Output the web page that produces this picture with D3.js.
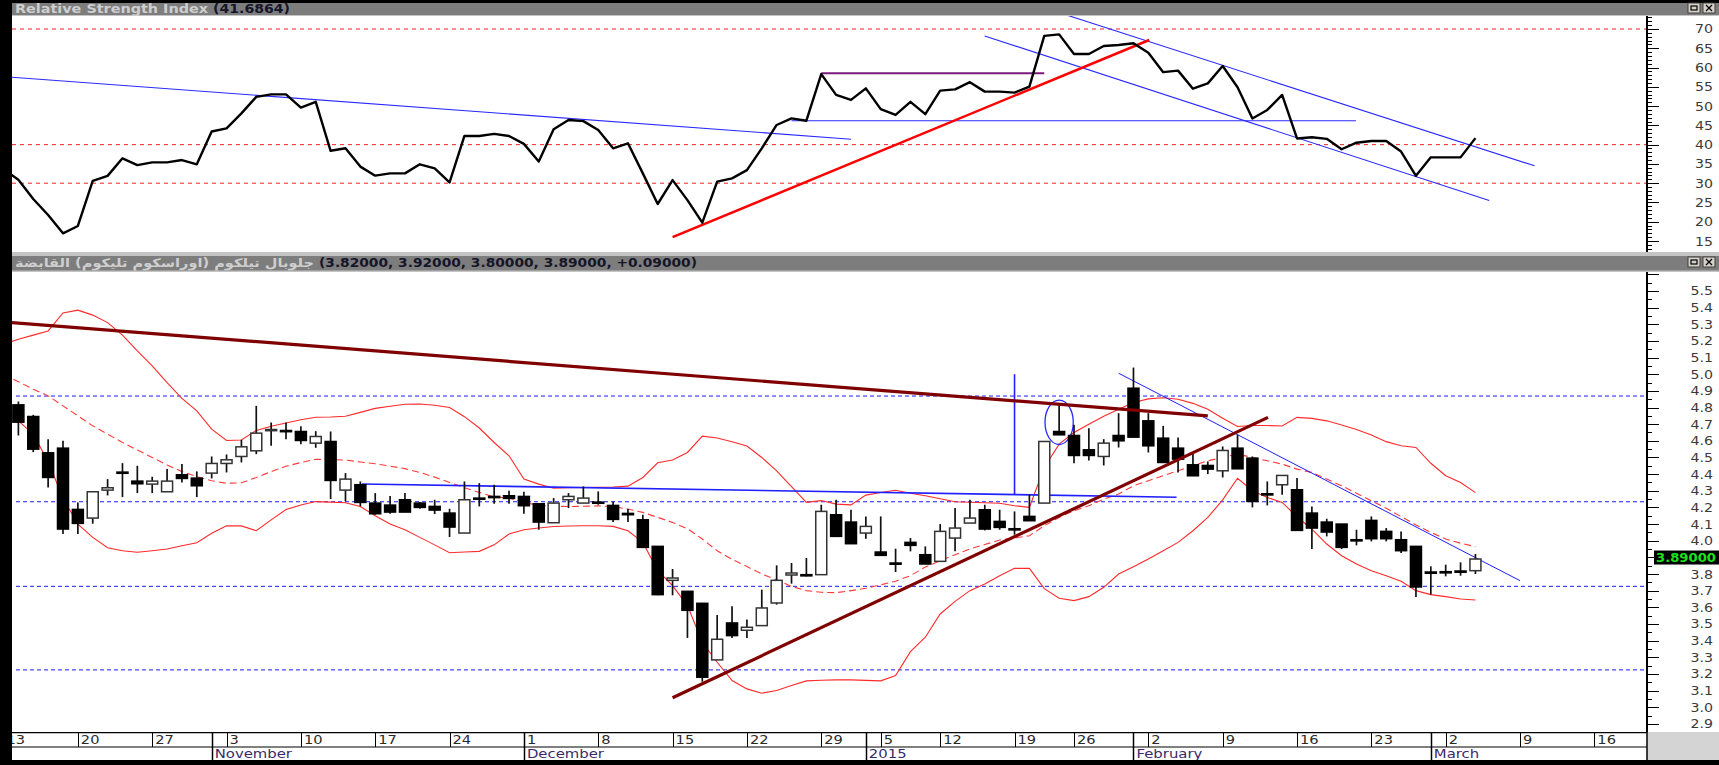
<!DOCTYPE html>
<html>
<head>
<meta charset="utf-8">
<script src="https://cdn.jsdelivr.net/npm/d3@7"></script>
<style>
  html, body { margin: 0; padding: 0; background: #000; overflow: hidden; }
  text { font-family: "DejaVu Sans", sans-serif; }
</style>
</head>
<body>
<div id="chart"></div>
<script>
// trading days on the x axis (the first one is cut by the left border, the tail is empty future space)
const dates = [
  "2014-10-13","2014-10-14","2014-10-15","2014-10-16","2014-10-19","2014-10-20","2014-10-21","2014-10-22","2014-10-23","2014-10-26",
  "2014-10-27","2014-10-28","2014-10-29","2014-10-30","2014-11-02","2014-11-03","2014-11-04","2014-11-05","2014-11-06","2014-11-09",
  "2014-11-10","2014-11-11","2014-11-12","2014-11-13","2014-11-16","2014-11-17","2014-11-18","2014-11-19","2014-11-20","2014-11-23",
  "2014-11-24","2014-11-25","2014-11-26","2014-11-27","2014-11-30","2014-12-01","2014-12-02","2014-12-03","2014-12-04","2014-12-07",
  "2014-12-08","2014-12-09","2014-12-10","2014-12-11","2014-12-14","2014-12-15","2014-12-16","2014-12-17","2014-12-18","2014-12-21",
  "2014-12-22","2014-12-23","2014-12-24","2014-12-25","2014-12-28","2014-12-29","2014-12-30","2014-12-31","2015-01-04","2015-01-05",
  "2015-01-06","2015-01-08","2015-01-11","2015-01-12","2015-01-13","2015-01-14","2015-01-15","2015-01-18","2015-01-19","2015-01-20",
  "2015-01-21","2015-01-22","2015-01-26","2015-01-27","2015-01-28","2015-01-29","2015-02-01","2015-02-02","2015-02-03","2015-02-04",
  "2015-02-05","2015-02-08","2015-02-09","2015-02-10","2015-02-11","2015-02-12","2015-02-15","2015-02-16","2015-02-17","2015-02-18",
  "2015-02-19","2015-02-22","2015-02-23","2015-02-24","2015-02-25","2015-02-26","2015-03-01","2015-03-02","2015-03-03","2015-03-04",
  "2015-03-05","2015-03-08","2015-03-09","2015-03-10","2015-03-11","2015-03-12","2015-03-15","2015-03-16","2015-03-17","2015-03-18",
  "2015-03-19"
];

// daily candles
const open = [null,
  4.816,4.746,4.528,4.556,4.188,4.136,4.304,4.412,4.358,4.340,
  4.294,4.396,4.376,4.406,4.464,4.506,4.540,4.664,4.662,4.656,
  4.586,4.596,4.304,4.336,4.226,4.214,4.246,4.226,4.206,4.166,
  4.046,4.256,4.266,4.270,4.266,4.222,4.108,4.246,4.226,4.232,
  4.212,4.164,4.126,3.966,3.762,3.696,3.624,3.284,3.506,3.462,
  3.490,3.626,3.794,3.796,3.796,4.156,4.112,4.046,3.932,3.866,
  3.990,3.916,3.876,4.016,4.106,4.186,4.116,4.072,4.146,4.226,
  4.656,4.632,4.546,4.506,4.632,4.916,4.720,4.616,4.556,4.456,
  4.452,4.420,4.556,4.496,4.282,4.336,4.306,4.166,4.112,4.100,
  4.006,4.122,4.056,4.006,3.966,3.812,3.814,3.818,3.820];
const high = [null,
  4.836,4.756,4.610,4.600,4.230,4.294,4.370,4.466,4.450,4.384,
  4.430,4.460,4.416,4.506,4.518,4.606,4.810,4.710,4.710,4.688,
  4.658,4.656,4.406,4.356,4.286,4.268,4.286,4.232,4.246,4.192,
  4.356,4.346,4.336,4.300,4.294,4.222,4.256,4.286,4.326,4.296,
  4.236,4.190,4.156,3.966,3.830,3.696,3.624,3.554,3.606,3.526,
  3.706,3.852,3.866,3.896,4.216,4.246,4.186,4.146,4.146,3.952,
  4.016,3.966,4.100,4.196,4.246,4.216,4.186,4.176,4.276,4.596,
  4.812,4.696,4.676,4.610,4.766,5.040,4.766,4.690,4.620,4.526,
  4.476,4.566,4.636,4.506,4.356,4.392,4.376,4.206,4.132,4.100,
  4.066,4.146,4.076,4.056,3.966,3.846,3.856,3.870,3.920];
const low = [null,
  4.632,4.532,4.320,4.040,4.040,4.102,4.272,4.262,4.286,4.286,
  4.294,4.350,4.262,4.374,4.410,4.470,4.520,4.570,4.610,4.580,
  4.558,4.250,4.236,4.206,4.156,4.162,4.172,4.192,4.160,4.022,
  4.046,4.206,4.222,4.222,4.162,4.066,4.108,4.196,4.226,4.216,
  4.112,4.112,3.960,3.672,3.672,3.416,3.153,3.284,3.416,3.416,
  3.490,3.616,3.742,3.786,3.796,4.026,3.982,4.012,3.912,3.812,
  3.936,3.860,3.876,3.936,4.106,4.062,4.066,4.036,4.120,4.226,
  4.636,4.466,4.482,4.452,4.560,4.622,4.530,4.470,4.410,4.390,
  4.400,4.380,4.432,4.200,4.212,4.276,4.062,3.950,4.026,3.950,
  3.972,3.996,3.996,3.926,3.662,3.676,3.786,3.790,3.800];
const close = [null,
  4.712,4.550,4.380,4.070,4.104,4.294,4.318,4.412,4.342,4.358,
  4.358,4.374,4.330,4.464,4.486,4.564,4.646,4.668,4.662,4.602,
  4.626,4.362,4.370,4.230,4.162,4.172,4.172,4.200,4.184,4.082,
  4.246,4.256,4.266,4.254,4.210,4.112,4.226,4.266,4.256,4.232,
  4.128,4.156,3.960,3.676,3.776,3.582,3.180,3.408,3.430,3.480,
  3.596,3.762,3.806,3.796,4.176,4.026,3.982,4.086,3.912,3.866,
  3.972,3.860,4.056,4.076,4.136,4.070,4.080,4.070,4.120,4.596,
  4.636,4.512,4.512,4.586,4.600,4.622,4.570,4.470,4.490,4.390,
  4.430,4.542,4.432,4.236,4.282,4.392,4.062,4.076,4.052,3.960,
  4.006,4.012,4.012,3.940,3.722,3.812,3.814,3.812,3.890];

// Bollinger bands
const bbUpper = [
  5.18,5.21,5.235,5.26,5.368,5.385,5.355,5.31,5.235,5.14,
  5.05,4.95,4.855,4.78,4.67,4.602,4.605,4.662,4.687,4.707,
  4.727,4.742,4.743,4.748,4.771,4.795,4.808,4.82,4.821,4.814,
  4.80,4.745,4.677,4.59,4.51,4.37,4.34,4.315,4.318,4.32,
  4.321,4.323,4.328,4.38,4.468,4.485,4.53,4.628,4.617,4.594,
  4.569,4.50,4.42,4.325,4.23,4.241,4.22,4.215,4.274,4.29,
  4.303,4.285,4.27,4.252,4.234,4.231,4.228,4.225,4.21,4.20,
  4.44,4.58,4.65,4.70,4.748,4.79,4.83,4.852,4.859,4.85,
  4.825,4.79,4.735,4.686,4.692,4.692,4.689,4.741,4.735,4.72,
  4.695,4.668,4.635,4.595,4.57,4.56,4.465,4.39,4.35,4.289];
const bbMiddle = [
  5.00,4.955,4.91,4.87,4.81,4.75,4.69,4.64,4.59,4.545,
  4.50,4.455,4.415,4.385,4.36,4.345,4.348,4.38,4.415,4.447,
  4.47,4.489,4.487,4.484,4.473,4.462,4.448,4.433,4.41,4.382,
  4.35,4.318,4.29,4.263,4.256,4.23,4.212,4.207,4.205,4.207,
  4.209,4.205,4.19,4.17,4.14,4.11,4.072,4.01,3.94,3.888,
  3.845,3.80,3.765,3.725,3.70,3.69,3.688,3.70,3.714,3.735,
  3.757,3.79,3.842,3.88,3.916,3.95,3.977,4.004,4.016,4.03,
  4.09,4.14,4.18,4.21,4.25,4.28,4.33,4.36,4.39,4.42,
  4.45,4.48,4.50,4.52,4.50,4.48,4.46,4.43,4.41,4.37,
  4.33,4.285,4.24,4.195,4.145,4.095,4.05,4.01,3.985,3.964];
const bbLower = [
  4.80,4.72,4.64,4.475,4.255,4.10,4.02,3.958,3.94,3.931,
  3.94,3.95,3.97,3.988,4.045,4.09,4.089,4.06,4.125,4.187,
  4.215,4.235,4.232,4.228,4.205,4.15,4.10,4.066,4.02,3.975,
  3.928,3.932,3.936,3.975,4.04,4.066,4.076,4.085,4.088,4.09,
  4.09,4.086,4.06,3.99,3.82,3.73,3.61,3.39,3.27,3.16,
  3.11,3.084,3.10,3.13,3.158,3.162,3.164,3.164,3.161,3.158,
  3.19,3.334,3.42,3.56,3.636,3.70,3.74,3.79,3.834,3.834,
  3.712,3.654,3.64,3.664,3.72,3.80,3.844,3.89,3.94,3.99,
  4.06,4.14,4.245,4.375,4.30,4.26,4.23,4.144,4.07,3.98,
  3.91,3.86,3.82,3.79,3.756,3.70,3.676,3.664,3.65,3.644];

// RSI(14)
const rsi = [
  33.6,30.9,25.9,21.75,17.0,18.9,30.6,31.9,36.45,34.7,
  35.4,35.4,36.0,34.9,43.4,44.2,48.1,52.4,53.05,53.05,
  49.6,51.1,38.4,39.05,34.3,31.95,32.55,32.55,34.9,33.85,
  30.2,42.25,42.25,42.8,42.25,40.2,35.6,44.0,46.4,46.1,
  43.8,39.05,40.35,32.55,24.6,30.8,25.6,19.75,30.4,31.25,
  33.4,39.05,45.1,46.8,46.2,58.3,52.9,51.6,54.6,49.2,
  47.7,51.1,47.9,54.0,54.35,56.2,53.75,53.75,53.5,55.05,
  68.2,68.6,63.5,63.5,65.6,65.85,66.3,63.85,58.8,59.2,
  54.5,55.9,60.4,54.9,46.8,49.0,52.9,41.6,41.9,41.5,
  38.8,40.5,40.95,40.95,38.2,31.9,36.7,36.7,36.7,41.69];

// axis tick labels
const rsiTicks = [15, 20, 25, 30, 35, 40, 45, 50, 55, 60, 65, 70];
const priceTicks = [2.9, 3.0, 3.1, 3.2, 3.3, 3.4, 3.5, 3.6, 3.7, 3.8, 4.0, 4.1, 4.2, 4.3, 4.4, 4.5, 4.6, 4.7, 4.8, 4.9, 5.0, 5.1, 5.2, 5.3, 5.4, 5.5];
const monthNames = ["2015", "February", "March", "April", "May", "June", "July", "August", "September", "October", "November", "December"];

// horizontal reference levels
const rsiLevels = [70, 40, 30];
const priceLevels = [4.869, 4.234, 3.726, 3.224];

// drawn trend lines, as [day position, value] pairs
const priceTrendMaroon = [[[0.57, 5.31], [81.0, 4.75]], [[45.0, 3.057], [85.05, 4.741]]];
const priceTrendBlue = [[[68.0, 5.0], [68.0, 4.275]], [[24.1, 4.341], [78.9, 4.261]], [[75.0, 5.006], [102.0, 3.76]]];
const priceEllipse = { center: [71.0, 4.711], dx: 0.95, dv: 0.133 };
const rsiTrendBlue = [[[0.57, 57.5], [57.0, 41.4]], [[53.0, 46.2], [90.96, 46.2]], [[71.52, 73.6], [102.98, 34.5]], [[65.99, 68.2], [99.93, 25.5]]];
const rsiTrendRed = [[45.0, 16.0], [77.06, 67.15]];
const rsiTrendPurple = [[55.0, 58.5], [70.0, 58.5]];

const rsiTitle = "Relative Strength Index";
const rsiValue = "(41.6864)";
const priceTitle = "جلوبال تيلكوم (اوراسكوم تليكوم) القابضة";
const priceValue = "(3.82000, 3.92000, 3.80000, 3.89000, +0.09000)";

// ---------------------------------------------------------------
const width = 1719, height = 765;
const plotL = 12, plotR = 1647;
const rsiTop = 16, rsiBot = 252;
const pxTop = 272, pxBot = 732;

const svg = d3.select("#chart").append("svg")
    .attr("width", width)
    .attr("height", height)
    .style("display", "block");

const x = d3.scaleLinear().domain([0.57, 110.54]).range([plotL, plotR]);
const yR = d3.scaleLinear().domain([12.15, 73.37]).range([rsiBot, rsiTop]);
const yP = d3.scaleLinear().domain([2.851, 5.614]).range([pxBot, pxTop]);

// frame pieces
svg.append("rect").attr("width", width).attr("height", height).attr("fill", "#000");
svg.append("rect").attr("x", plotL).attr("y", 3).attr("width", width - plotL).attr("height", 13).attr("fill", "#7d7d7d");
svg.append("rect").attr("x", plotL).attr("y", 15).attr("width", width - plotL).attr("height", 1.5).attr("fill", "#c4c4c4");
svg.append("rect").attr("x", plotL).attr("y", rsiTop).attr("width", width - plotL).attr("height", rsiBot - rsiTop).attr("fill", "#fff");
svg.append("rect").attr("x", plotL).attr("y", rsiBot).attr("width", width - plotL).attr("height", 4).attr("fill", "#c4c4c4");
svg.append("rect").attr("x", plotL).attr("y", 256).attr("width", width - plotL).attr("height", 15).attr("fill", "#7d7d7d");
svg.append("rect").attr("x", plotL).attr("y", 270.5).attr("width", width - plotL).attr("height", 1.5).attr("fill", "#c4c4c4");
svg.append("rect").attr("x", plotL).attr("y", pxTop).attr("width", width - plotL).attr("height", 488).attr("fill", "#fff");
svg.append("rect").attr("x", plotR).attr("y", pxBot).attr("width", width - plotR).attr("height", 28).attr("fill", "#d4d4d4");

// header titles: each piece is stretched to the width it has in the original
function headText(str, x0, x1, y, color, ltr) {
    const t = svg.append("text")
        .attr("x", (x0 + x1) / 2).attr("y", y)
        .attr("text-anchor", "middle")
        .attr("font-size", 12).attr("font-weight", "bold").attr("fill", color)
        .attr("textLength", x1 - x0).attr("lengthAdjust", "spacingAndGlyphs")
        .text(str);
    if (ltr) t.attr("direction", "ltr").attr("unicode-bidi", "bidi-override");
}
headText(rsiTitle, 15, 208, 13, "#cfcfcf", true);
headText(rsiValue, 213, 290, 13, "#15152a", true);
headText(priceTitle, 15, 314, 267, "#cfcfcf", false);
headText(priceValue, 319, 697, 267, "#15152a", true);

// little window buttons
[8, 262].forEach(cy => {
    [1688, 1703].forEach((bx, k) => {
        svg.append("rect").attr("x", bx).attr("y", cy - 5).attr("width", 12).attr("height", 10)
            .attr("fill", "#d4d0c8").attr("stroke", "#404040").attr("stroke-width", 1);
        if (k === 0) {
            svg.append("rect").attr("x", bx + 3).attr("y", cy - 2).attr("width", 6).attr("height", 4)
                .attr("fill", "none").attr("stroke", "#000").attr("stroke-width", 1.2);
        } else {
            svg.append("path").attr("d", `M${bx + 3},${cy - 3}L${bx + 9},${cy + 3}M${bx + 9},${cy - 3}L${bx + 3},${cy + 3}`)
                .attr("stroke", "#000").attr("stroke-width", 1.2);
        }
    });
});

// clip regions
const defs = svg.append("defs");
defs.append("clipPath").attr("id", "clipR").append("rect")
    .attr("x", plotL).attr("y", rsiTop).attr("width", plotR - plotL).attr("height", rsiBot - rsiTop);
defs.append("clipPath").attr("id", "clipP").append("rect")
    .attr("x", plotL).attr("y", pxTop).attr("width", plotR - plotL).attr("height", pxBot - pxTop);
defs.append("clipPath").attr("id", "clipX").append("rect")
    .attr("x", plotL).attr("y", pxBot).attr("width", plotR - plotL).attr("height", 28);

// stretched axis label (the original font is wider than ours)
function wideText(sel, sx) {
    return sel.attr("transform", d => `translate(${d.tx},${d.ty}) scale(${sx},1)`);
}

// ---------------- RSI panel ----------------
const gR = svg.append("g").attr("clip-path", "url(#clipR)");

gR.selectAll(".lvl").data(rsiLevels).enter().append("line")
    .attr("x1", plotL).attr("x2", plotR)
    .attr("y1", d => yR(d)).attr("y2", d => yR(d))
    .attr("stroke", "#ff2020").attr("stroke-width", 1).attr("stroke-dasharray", "4,4");

const seg = (sx, sy) => d3.line().x(d => sx(d[0])).y(d => sy(d[1]));

gR.selectAll(".tb").data(rsiTrendBlue).enter().append("path")
    .attr("d", seg(x, yR)).attr("fill", "none").attr("stroke", "#2a2aff").attr("stroke-width", 1.1);
gR.append("path").attr("d", seg(x, yR)(rsiTrendPurple))
    .attr("fill", "none").attr("stroke", "#7a1a7a").attr("stroke-width", 2);
gR.append("path").attr("d", seg(x, yR)(rsiTrendRed))
    .attr("fill", "none").attr("stroke", "#ff0000").attr("stroke-width", 2.5);

const rsiLine = d3.line().x((d, i) => x(i)).y(d => yR(d));
gR.append("path").attr("d", rsiLine(rsi))
    .attr("fill", "none").attr("stroke", "#000").attr("stroke-width", 2.4).attr("stroke-linejoin", "round");

// RSI axis
const axR = svg.append("g").attr("transform", `translate(${plotR},0)`);
axR.append("line").attr("y1", rsiTop).attr("y2", rsiBot).attr("stroke", "#000").attr("stroke-width", 2);
axR.selectAll(".mn").data(d3.range(13, 74)).enter().append("line")
    .attr("x1", 0).attr("x2", d => d % 5 === 0 ? 12 : 5)
    .attr("y1", d => Math.round(yR(d)) + 0.5).attr("y2", d => Math.round(yR(d)) + 0.5)
    .attr("stroke", "#000").attr("stroke-width", 1);
wideText(axR.selectAll(".lb").data(rsiTicks.map(v => ({ v, tx: 66, ty: yR(v) + 4.5 }))).enter().append("text")
    .attr("text-anchor", "end").attr("font-size", 12).attr("fill", "#3a3a3a")
    .text(d => d.v), 1.18);

// ---------------- Price panel ----------------
const gP = svg.append("g").attr("clip-path", "url(#clipP)");

gP.selectAll(".lvl").data(priceLevels).enter().append("line")
    .attr("x1", plotL + 4).attr("x2", plotR)
    .attr("y1", d => yP(d)).attr("y2", d => yP(d))
    .attr("stroke", "#1a1aff").attr("stroke-width", 1).attr("stroke-dasharray", "4,3");

const bandLine = d3.line().x((d, i) => x(i)).y(d => yP(d));
gP.append("path").attr("d", bandLine(bbUpper)).attr("fill", "none").attr("stroke", "#ff2a2a").attr("stroke-width", 1.1);
gP.append("path").attr("d", bandLine(bbLower)).attr("fill", "none").attr("stroke", "#ff2a2a").attr("stroke-width", 1.1);
gP.append("path").attr("d", bandLine(bbMiddle)).attr("fill", "none").attr("stroke", "#ff3a3a").attr("stroke-width", 1.1)
    .attr("stroke-dasharray", "7,4");

gP.selectAll(".tb").data(priceTrendBlue).enter().append("path")
    .attr("d", seg(x, yP)).attr("fill", "none").attr("stroke", "#1f1fff").attr("stroke-width", (d, i) => i === 2 ? 1 : 1.6);

gP.append("ellipse")
    .attr("cx", x(priceEllipse.center[0])).attr("cy", yP(priceEllipse.center[1]))
    .attr("rx", x(priceEllipse.center[0] + priceEllipse.dx) - x(priceEllipse.center[0]))
    .attr("ry", yP(priceEllipse.center[1] - priceEllipse.dv) - yP(priceEllipse.center[1]))
    .attr("fill", "none").attr("stroke", "#2a2aff").attr("stroke-width", 1.3);

// candles
const candles = dates.map((d, i) => ({ i, o: open[i], h: high[i], l: low[i], c: close[i] }))
    .filter(d => d.o != null);
const bw = (x(1) - x(0)) * 0.74;

gP.selectAll(".wick").data(candles).enter().append("line")
    .attr("x1", d => x(d.i)).attr("x2", d => x(d.i))
    .attr("y1", d => yP(d.h)).attr("y2", d => yP(d.l))
    .attr("stroke", "#111").attr("stroke-width", 1.7);
gP.selectAll(".body").data(candles).enter().append("rect")
    .attr("x", d => x(d.i) - bw / 2)
    .attr("y", d => yP(Math.max(d.o, d.c)))
    .attr("width", bw)
    .attr("height", d => Math.max(Math.abs(yP(d.o) - yP(d.c)), 1.2))
    .attr("fill", d => d.c > d.o ? "#fff" : "#000")
    .attr("stroke", d => d.c > d.o ? "#333" : "#000")
    .attr("stroke-width", 1.5);

gP.selectAll(".tm").data(priceTrendMaroon).enter().append("path")
    .attr("d", seg(x, yP)).attr("fill", "none").attr("stroke", "#800000").attr("stroke-width", 3.2);

// price axis
const axP = svg.append("g").attr("transform", `translate(${plotR},0)`);
axP.append("line").attr("y1", pxTop).attr("y2", pxBot).attr("stroke", "#000").attr("stroke-width", 2);
axP.selectAll(".mn").data(d3.range(58, 113)).enter().append("line")
    .attr("x1", 0).attr("x2", d => d % 2 === 0 ? 12 : 5)
    .attr("y1", d => Math.round(yP(d / 20)) + 0.5).attr("y2", d => Math.round(yP(d / 20)) + 0.5)
    .attr("stroke", "#000").attr("stroke-width", 1);
wideText(axP.selectAll(".lb").data(priceTicks.map(v => ({ v, tx: 66, ty: yP(v) + 4.5 }))).enter().append("text")
    .attr("text-anchor", "end").attr("font-size", 12).attr("fill", "#3a3a3a")
    .text(d => d.v.toFixed(1)), 1.18);

// last price box
const lastClose = close[close.length - 1];
svg.append("rect").attr("x", plotR + 7).attr("y", yP(lastClose) - 8.5).attr("width", width - plotR - 7).attr("height", 14).attr("fill", "#000");
svg.append("text").attr("x", plotR + 9).attr("y", yP(lastClose) + 3)
    .attr("font-size", 12).attr("font-weight", "bold").attr("fill", "#1de01d")
    .attr("textLength", 60).attr("lengthAdjust", "spacingAndGlyphs")
    .text(lastClose.toFixed(5));

// ---------------- date axis ----------------
const parse = d3.timeParse("%Y-%m-%d");
const days = dates.map((s, i) => ({ i, d: parse(s) }));
const weekTicks = days.filter(e => e.d.getDay() === 1);
const monthTicks = days.filter((e, k) => k > 0 && e.d.getMonth() !== days[k - 1].d.getMonth());

const gX = svg.append("g").attr("clip-path", "url(#clipX)");
gX.append("line").attr("x1", plotL).attr("x2", plotR).attr("y1", pxBot + 0.5).attr("y2", pxBot + 0.5).attr("stroke", "#000").attr("stroke-width", 1.5);
gX.append("line").attr("x1", plotL).attr("x2", plotR).attr("y1", 747).attr("y2", 747).attr("stroke", "#000").attr("stroke-width", 1);
gX.selectAll(".wk").data(weekTicks).enter().append("line")
    .attr("x1", d => Math.round(x(d.i)) + 0.5).attr("x2", d => Math.round(x(d.i)) + 0.5)
    .attr("y1", pxBot).attr("y2", 747).attr("stroke", "#000").attr("stroke-width", 1);
wideText(gX.selectAll(".wkl").data(weekTicks.map(e => ({ ...e, tx: x(e.i) + 3, ty: 744 }))).enter().append("text")
    .attr("font-size", 12).attr("fill", "#2a2a2a")
    .text(d => d.d.getDate()), 1.22);
gX.selectAll(".mo").data(monthTicks).enter().append("line")
    .attr("x1", d => Math.round(x(d.i)) + 0.5).attr("x2", d => Math.round(x(d.i)) + 0.5)
    .attr("y1", pxBot).attr("y2", 760).attr("stroke", "#000").attr("stroke-width", 1.5);
wideText(gX.selectAll(".mol").data(monthTicks.map(e => ({ ...e, tx: x(e.i) + 3, ty: 758 }))).enter().append("text")
    .attr("font-size", 12).attr("fill", "#3a2a6a")
    .text(d => monthNames[d.d.getMonth()]), 1.24);
svg.append("line").attr("x1", plotR).attr("x2", plotR).attr("y1", pxBot).attr("y2", 760).attr("stroke", "#000").attr("stroke-width", 1.5);
</script>
</body>
</html>
